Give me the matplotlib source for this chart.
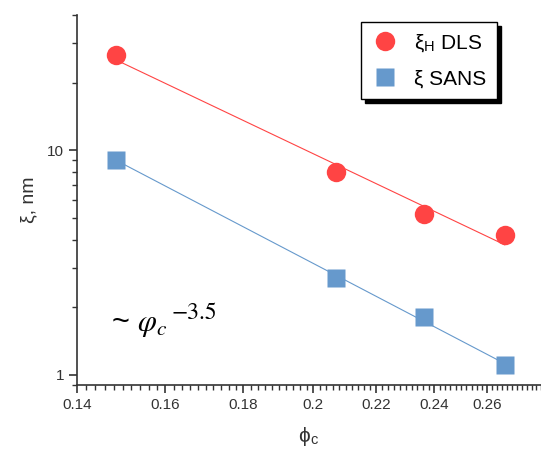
import numpy as np
import matplotlib
matplotlib.use("Agg")
import matplotlib.pyplot as plt
from matplotlib.ticker import FixedLocator, NullFormatter, FixedFormatter, LogLocator

plt.rcParams['font.family'] = ['Liberation Sans', 'DejaVu Sans']
plt.rcParams['mathtext.fontset'] = 'stix'

phi_dls = [0.1485, 0.207, 0.2365, 0.267]
xi_dls = [26.5, 8.0, 5.2, 4.2]
phi_sans = [0.1485, 0.207, 0.2365, 0.267]
xi_sans = [9.05, 2.7, 1.8, 1.1]
xticks = [0.14, 0.16, 0.18, 0.2, 0.22, 0.24, 0.26]
xticklabels = ['0.14', '0.16', '0.18', '0.2', '0.22', '0.24', '0.26']

red = '#FF4444'
blue = '#6699CC'

fig = plt.figure(figsize=(5.41, 4.5), dpi=100)
ax = fig.add_axes([0.142, 0.1444, 0.858, 0.8223])

ax.set_xscale('log')
ax.set_yscale('log')

def fitline(x, y):
    x = np.array(x); y = np.array(y)
    p = np.polyfit(np.log(x), np.log(y), 1)
    xs = np.array([x.min(), x.max()])
    return xs, np.exp(np.polyval(p, np.log(xs)))

lx, ly = fitline(phi_dls, xi_dls)
ax.plot(lx, ly, color=red, lw=0.8, zorder=2)
lx, ly = fitline(phi_sans, xi_sans)
ax.plot(lx, ly, color=blue, lw=0.8, zorder=2)

ax.plot(phi_dls, xi_dls, 'o', color=red, ms=14, mec='none', zorder=3,
        label=r'ξ$_\mathregular{H}$ DLS')
ax.plot(phi_sans, xi_sans, 's', color=blue, ms=12.5, mec='none', zorder=3,
        label='ξ SANS')

ax.set_xlim(0.14, 0.282)
ax.set_ylim(0.9, 40)

ax.xaxis.set_major_locator(FixedLocator(xticks))
ax.xaxis.set_major_formatter(FixedFormatter(xticklabels))
ax.xaxis.set_minor_locator(FixedLocator(np.arange(0.14, 0.2821, 0.002)))
ax.xaxis.set_minor_formatter(NullFormatter())
ax.yaxis.set_major_locator(FixedLocator([1, 10]))
ax.yaxis.set_major_formatter(FixedFormatter(['1', '10']))
ax.yaxis.set_minor_locator(LogLocator(base=10, subs=np.arange(2, 10)))
ax.yaxis.set_minor_formatter(NullFormatter())

for s in ['top', 'right']:
    ax.spines[s].set_visible(False)
for s in ['left', 'bottom']:
    ax.spines[s].set_linewidth(1.2)
    ax.spines[s].set_color('#333333')

ax.tick_params(which='major', length=6, width=1.2, color='#333333', labelsize=11, labelcolor='#333333', pad=3)
ax.tick_params(which='minor', length=3.5, width=1.0, color='#333333')

ax.set_xlabel('ϕ$_\\mathregular{c}$', fontsize=15, color='#333333', labelpad=10)
ax.set_ylabel('ξ, nm', fontsize=14, color='#333333', labelpad=7)

leg = ax.legend(loc='upper left', bbox_to_anchor=(0.612, 0.982), fontsize=15,
                frameon=True, fancybox=False, edgecolor='black', framealpha=1,
                shadow={'ox': 3, 'oy': -3, 'color': 'black', 'alpha': 1},
                handletextpad=0.75, borderpad=0.5, labelspacing=0.75,
                handlelength=1.3, borderaxespad=0)
leg.get_frame().set_linewidth(1.0)

ax.text(0.074, 0.145, r'~ $\varphi_c$', transform=ax.transAxes,
        fontsize=22, color='black', ha='left', va='baseline')
ax.text(0.205, 0.178, '−3.5', transform=ax.transAxes, family='STIXGeneral',
        fontsize=17, color='black', ha='left', va='baseline')

fig.savefig('out.png', dpi=100)
